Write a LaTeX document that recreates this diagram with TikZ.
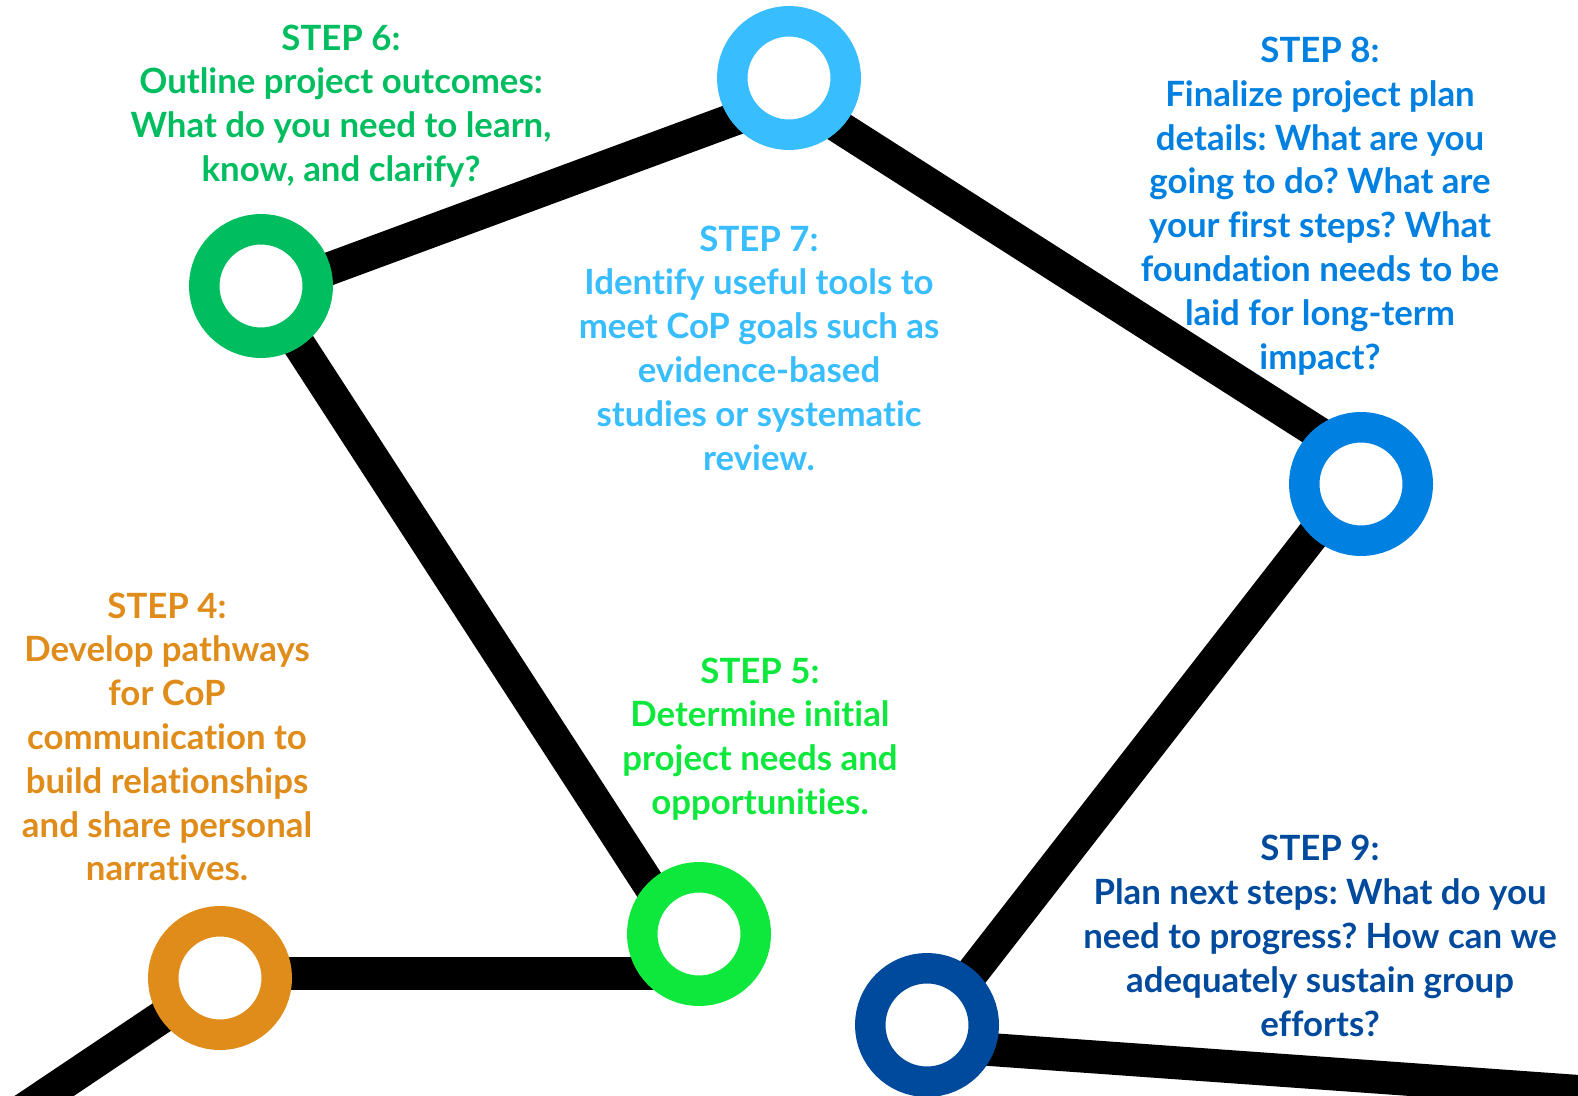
\documentclass[tikz,border=0pt]{standalone}
\usepackage{fontspec}
\setmainfont{Lato}[Ligatures=NoCommon]
\usetikzlibrary{calc,backgrounds}

\definecolor{stepfour}{HTML}{E08C1A}
\definecolor{stepfive}{HTML}{0EE83C}
\definecolor{stepsix}{HTML}{00BE5F}
\definecolor{stepseven}{HTML}{38BDFF}
\definecolor{stepeight}{HTML}{0080E0}
\definecolor{stepnine}{HTML}{004A9E}

\tikzset{
  ring/.style={circle, minimum size=56.75pt, inner sep=0pt, line width=15.25pt, fill=white},
  track/.style={line width=16.5pt, black},
  steptext/.style={align=center, inner sep=0pt, font=\bfseries\frenchspacing\fontsize{17.4}{21.9}\selectfont}
}

\newcommand{\stepring}[4]{
\node[ring, draw=#4] (#1) at (#2,#3) {};
}

\begin{document}
\begin{tikzpicture}[x=0.5pt,y=-0.5pt]
\useasboundingbox (0,0) rectangle (1578,1096);
\clip (0,0) rectangle (1578,1096);

\stepring{s4}{220}{978}{stepfour}
\stepring{s5}{699}{934}{stepfive}
\stepring{s6}{261}{286}{stepsix}
\stepring{s7}{789}{78}{stepseven}
\stepring{s8}{1361}{484}{stepeight}
\stepring{s9}{927}{1025}{stepnine}

\coordinate (start) at (-20,1139);
\coordinate (finish) at (1600,1093);

\begin{pgfonlayer}{background}
\draw[track] (start) -- (s4.center);
\draw[track] ($(s4)+(0,-5)$) -- ($(s5)+(0,39)$);
\draw[track] ($(s5)+(-18,0)$) -- (s6.center);
\draw[track] ($(s6)+(0,8)$) -- ($(s7)+(0,21)$);
\draw[track] ($(s7)+(0,17)$) -- ($(s8)+(0,-24)$);
\draw[track] ($(s8)+(0,-11)$) -- ($(s9)+(0,6)$);
\draw[track] ($(s9)+(0,20)$) -- (finish);
\end{pgfonlayer}

\node[steptext, text=stepsix] (t6) at (341,106) {STEP 6:\\Outline project outcomes:\\What do you need to learn,\\know, and clarify?};
\node[steptext, text=stepseven] (t7) at (759,348) {STEP 7:\\Identify useful tools to\\meet CoP goals such as\\evidence-based\\studies or systematic\\review.};
\node[steptext, text=stepeight] (t8) at (1320,206) {STEP 8:\\Finalize project plan\\details: What are you\\going to do? What are\\your first steps? What\\foundation needs to be\\laid for long-term\\impact?};
\node[steptext, text=stepfour] (t4) at (167,737) {STEP 4:\\Develop pathways\\for CoP\\communication to\\build relationships\\and share personal\\narratives.};
\node[steptext, text=stepfive] (t5) at (760,739) {STEP 5:\\Determine initial\\project needs and\\opportunities.};
\node[steptext, text=stepnine] (t9) at (1320,936) {STEP 9:\\Plan next steps: What do you\\need to progress? How can we\\adequately sustain group\\efforts?};

\end{tikzpicture}
\end{document}
